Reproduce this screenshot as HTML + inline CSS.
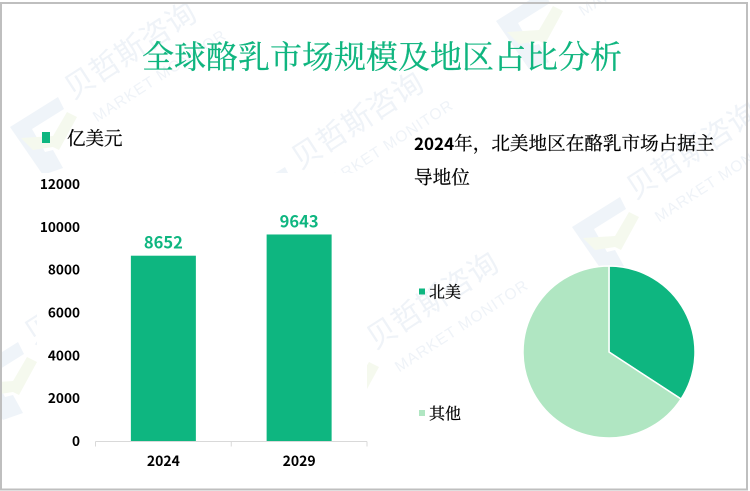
<!DOCTYPE html>
<html lang="zh">
<head>
<meta charset="utf-8">
<title>全球酪乳市场规模及地区占比分析</title>
<style>
html,body{margin:0;padding:0;background:#fff;overflow:hidden;}
#stage{position:relative;width:750px;height:491px;overflow:hidden;background:#fff;}
svg{position:absolute;left:0;top:0;}
.serif{font-family:"Liberation Serif","Noto Serif CJK SC",serif;}
.num{font-family:"Noto Sans CJK SC","Liberation Sans",sans-serif;font-weight:700;}
</style>
</head>
<body>
<div id="stage">
<svg id="chart" width="750" height="491" viewBox="0 0 750 491">
  <g id="watermarks"></g>
  <rect x="37" y="173" width="330" height="298" fill="#fff"/>
  <text x="382" y="68" text-anchor="middle" font-size="32" fill="#0fb57f" stroke="#0fb57f" stroke-width="0.25" class="serif">全球酪乳市场规模及地区占比分析</text>

  <rect x="42" y="132" width="8" height="11" fill="#0eb680"/>
  <text x="67" y="145" font-size="18.5" fill="#000" stroke="#000" stroke-width="0.25" class="serif">亿美元</text>

  <g id="yaxis"></g>
  <g id="bars"></g>
  <g id="xaxis"></g>

  <text x="414" y="150" font-size="18.6" fill="#000" stroke="#000" stroke-width="0.25" class="serif"><tspan class="num" font-size="17" stroke="none">2024</tspan>年，北美地区在酪乳市场占据主</text>
  <text x="414" y="184" font-size="18.6" fill="#000" stroke="#000" stroke-width="0.25" class="serif">导地位</text>

  <g id="pie"></g>
  <g id="pielegend"></g>

  <rect x="1" y="3" width="746" height="486.5" fill="none" stroke="#bfbfbf" stroke-width="2"/>
</svg>
</div>
<script>
var categories = ['2024', '2029'];
var barValues = [8652, 9643];
var yTicks = [0, 2000, 4000, 6000, 8000, 10000, 12000];
var pieLabels = ['北美', '其他'];
var pieValues = [34.2, 65.8];
var pieColors = ['#0eb680', '#b0e6c2'];
var wmAnchors = [[73,100],[300,170],[635,200],[375,350],[559,-6],[33,345]];

var NS = 'http://www.w3.org/2000/svg';
function mk(tag, attrs, parent, txt) {
  var el = document.createElementNS(NS, tag);
  for (var k in attrs) el.setAttribute(k, attrs[k]);
  if (txt !== undefined) el.textContent = txt;
  parent.appendChild(el);
  return el;
}

/* axis functions */
var yMax = 12000, plotBase = 441, plotH = 257, plotLeft = 95.5, plotRight = 367;
function yScale(v) { return plotBase - v / yMax * plotH; }
function xBand() { return (plotRight - plotLeft) / categories.length; }
function xCenter(i) { return plotLeft + xBand() * (i + 0.5); }

/* watermarks */
var wmG = document.getElementById('watermarks');
wmAnchors.forEach(function (a) {
  var g = mk('g', {transform: 'translate(' + a[0] + ',' + a[1] + ')'}, wmG);
  
  
  mk('polygon', {points: '-63,27 -15,-3 -9,9 -41,29 -28,52 -20,50 -10,68 -30,75', fill: '#eff4f9'}, g);
  mk('polygon', {points: '-52,38 -20,36 -6,12 4,17 -14,50 -20,47 -40,50', fill: '#f5f9ee'}, g);
  mk('text', {x: 0, y: 0, transform: 'rotate(-33)', 'font-size': 30, fill: '#eff3f8', 'font-family': '"Noto Sans CJK SC",sans-serif'}, g, '贝哲斯咨询');
  mk('text', {x: 8, y: 32, transform: 'rotate(-33)', 'font-size': 15.5, fill: '#eff3f8', 'letter-spacing': 1, 'font-family': '"Liberation Sans",sans-serif'}, g, 'MARKET MONITOR');
});

/* y axis */
var yG = document.getElementById('yaxis');
yTicks.forEach(function (t) {
  var lab = mk('text', {x: 80, y: yScale(t) + 5, 'text-anchor': 'end', 'font-size': 13.6, fill: '#000', 'class': 'num'}, yG, String(t));
  
  
});

/* bars */
var barsG = document.getElementById('bars');
var barW = 65;
barValues.forEach(function (v, i) {
  var y = yScale(v);
  var r = mk('rect', {x: xCenter(i) - barW / 2, y: y, width: barW, height: plotBase - y, fill: '#0eb680'}, barsG);
  
  
  var t = mk('text', {x: xCenter(i), y: y - 7, 'text-anchor': 'middle', 'font-size': 16.5, fill: '#0eb680', 'class': 'num'}, barsG, String(v));
  
  
});

/* x axis */
var xG = document.getElementById('xaxis');
var axisLine = mk('line', {x1: plotLeft, x2: plotRight, y1: 441.5, y2: 441.5, stroke: '#d9d9d9', 'stroke-width': 1}, xG);


for (var i = 0; i <= categories.length; i++) {
  var tx = plotLeft + xBand() * i;
  var tk = mk('line', {x1: tx, x2: tx, y1: 441.5, y2: 446.5, stroke: '#d9d9d9', 'stroke-width': 1}, xG);
  
  
}
categories.forEach(function (c, i) {
  var l = mk('text', {x: xCenter(i), y: 466, 'text-anchor': 'middle', 'font-size': 14, fill: '#000', 'class': 'num'}, xG, c);
  
  
});

/* pie */
var pieG = document.getElementById('pie');
var cx = 609, cy = 352, rad = 86;
var total = pieValues.reduce(function (a, b) { return a + b; }, 0);
var ang = -Math.PI / 2;
pieValues.forEach(function (v, i) {
  var a2 = ang + v / total * Math.PI * 2;
  var large = (a2 - ang) > Math.PI ? 1 : 0;
  var d = 'M' + cx + ',' + cy +
    'L' + (cx + rad * Math.cos(ang)) + ',' + (cy + rad * Math.sin(ang)) +
    'A' + rad + ',' + rad + ' 0 ' + large + ' 1 ' + (cx + rad * Math.cos(a2)) + ',' + (cy + rad * Math.sin(a2)) + 'Z';
  var p = mk('path', {d: d, fill: pieColors[i], stroke: '#fff', 'stroke-width': 1.5}, pieG);
  
  
  ang = a2;
});

/* pie legend */
var lgG = document.getElementById('pielegend');
var lgRow = 121.5;
pieLabels.forEach(function (n, i) {
  var base = 291.5 + lgRow * i;
  var s = mk('rect', {x: 419, y: base - 3, width: 6, height: 6, fill: pieColors[i]}, lgG);
  
  
  var t = mk('text', {x: 429, y: base + 6, 'font-size': 16, fill: '#000', stroke: '#000', 'stroke-width': 0.25, 'class': 'serif'}, lgG, n);
  
  
});
</script>
</body>
</html>
